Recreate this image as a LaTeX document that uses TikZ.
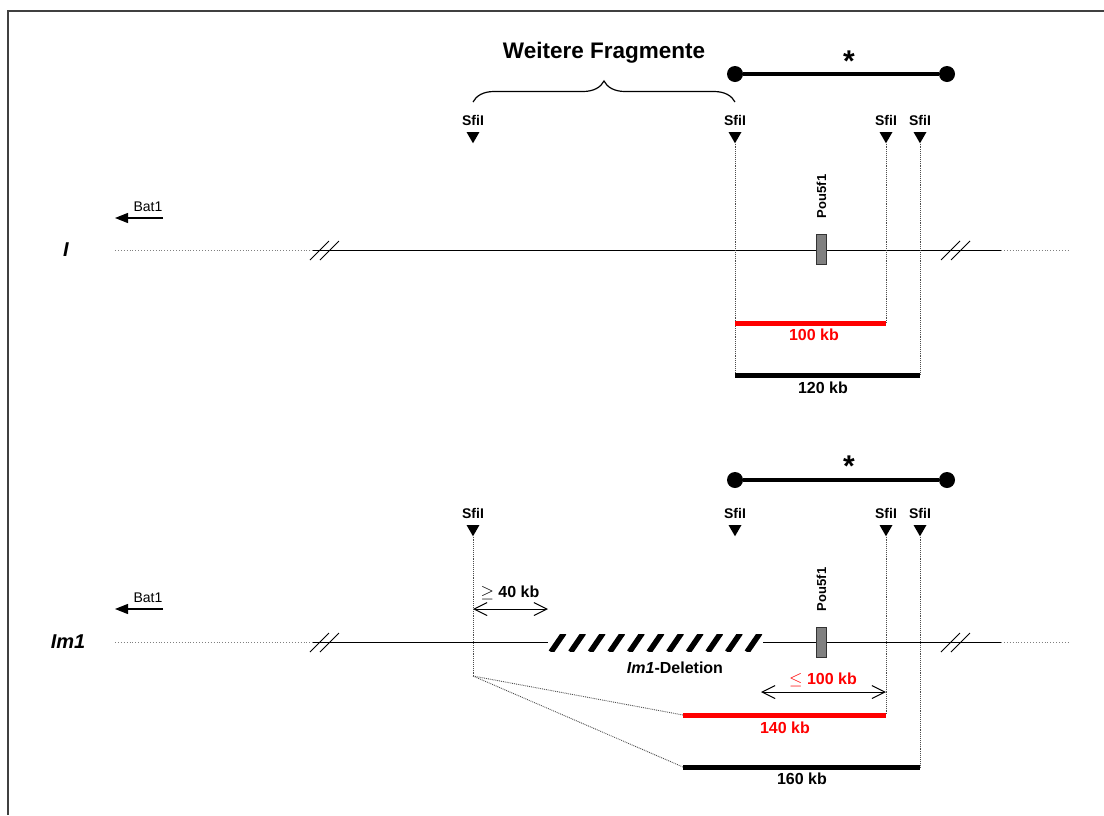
\documentclass[tikz,border=0pt]{standalone}
\usepackage{fontspec}
\setmainfont{Liberation Sans}
\usepackage{tikz}
\usetikzlibrary{arrows.meta,positioning,shapes.geometric,decorations.pathreplacing}

\begin{document}
\begin{tikzpicture}[
  x=1pt, y=-1pt,
  font=\fontsize{14}{16}\selectfont\bfseries,
  site/.style={regular polygon, regular polygon sides=3, shape border rotate=180,
               fill=black, inner sep=0pt, minimum size=15pt,
               label={[label distance=3pt]above:SfiI}},
  guide/.style={densely dotted, black!70, line width=0.9pt},
  chrom/.style={line width=0.9pt},
  far/.style={dotted, black!50, line width=0.9pt},
  cut/.style={line width=0.8pt},
  gene/.style={draw=black!80, fill=black!50, line width=0.8pt,
               minimum width=10pt, minimum height=30pt, inner sep=0pt},
  gname/.style={font=\fontsize{13}{15}\selectfont\bfseries, rotate=90, anchor=west},
  redbar/.style={red, line width=5pt},
  blackbar/.style={black, line width=5pt},
  kb/.style={font=\fontsize{16}{18}\selectfont\bfseries},
  pin/.style={circle, fill=black, inner sep=0pt, minimum size=16pt},
  link/.style={line width=3.5pt},
  star/.style={font=\fontsize{30}{32}\selectfont\bfseries},
  dir/.style={-{Triangle[length=13pt,width=10pt]}, line width=1.2pt},
  dirlbl/.style={font=\fontsize{14}{16}\selectfont\mdseries},
  allele/.style={font=\fontsize{20}{22}\selectfont\bfseries\itshape},
  span/.style={{Straight Barb[length=13pt,width=13pt]}-{Straight Barb[length=13pt,width=13pt]},
               line width=1pt}
]
\useasboundingbox (0,0) rectangle (1104,815);
\draw[black!75, line width=1.4pt] (1104,11) -- (8,11) -- (8,815);

%% wild type
\node[font=\fontsize{22.5}{25}\selectfont\bfseries] (wf) at (604,53) {Weitere Fragmente};
\node[pin] (p1) at (735,74) {};
\node[pin] (p2) at (947,74) {};
\draw[link] (p1) -- (p2);
\node[star] (st1) at (849,61) {*};

\foreach \n/\x in {1/473,2/735,3/886,4/920}
  \node[site] (a\n) at (\x,135.75) {};
\draw[decorate, decoration={brace, amplitude=21pt}, line width=1.2pt]
  (a1 |- 0,102) -- (a2 |- 0,102);

\coordinate (bt1) at (163,218);
\coordinate (bh1) at (115,218);
\draw[dir] (bt1) -- (bh1);
\node[dirlbl] (bat1) at (148,207) {Bat1};
\node[allele] (wt) at (66,250) {I};

\draw[far] (115,250) -- (313,250);
\draw[chrom] (313,250) -- (1001,250);
\draw[far] (1001,250) -- (1070,250);
\foreach \x in {310,320,941,951}
  \draw[cut] (\x,260) -- ++(19,-19);
\node[gene] (pou1) at (821.5,249) {};
\node[gname] (pl1) at ([yshift=12pt]pou1.north) {Pou5f1};

\coordinate (r1a) at (a2 |- 0,323);
\coordinate (r1b) at (a3 |- 0,323);
\coordinate (k1a) at (a2 |- 0,375);
\coordinate (k1b) at (a4 |- 0,375);
\draw[guide] (a2.south) -- (k1a);
\draw[guide] (a3.south) -- (r1b);
\draw[guide] (a4.south) -- (k1b);
\draw[redbar] (r1a) -- (r1b);
\draw[blackbar] (k1a) -- (k1b);
\node[kb, text=red] (l100) at (814,335) {100 kb};
\node[kb] (l120) at (823,388) {120 kb};

%% Im1
\node[pin] (q1) at (735,480) {};
\node[pin] (q2) at (947,480) {};
\draw[link] (q1) -- (q2);
\node[star] (st2) at (849,466) {*};

\foreach \n/\x in {1/473,2/735,3/886,4/920}
  \node[site] (b\n) at (\x,528.75) {};

\coordinate (bt2) at (163,609);
\coordinate (bh2) at (115,609);
\draw[dir] (bt2) -- (bh2);
\node[dirlbl] (bat2) at (148,598) {Bat1};
\node[allele] (mu) at (68,642) {Im1};

\draw[far] (115,642) -- (313,642);
\draw[chrom] (313,642) -- (1001,642);
\draw[far] (1001,642) -- (1070,642);
\foreach \x in {310,320,941,951}
  \draw[cut] (\x,652) -- ++(19,-19);
\node[gene] (pou2) at (821.5,642) {};
\node[gname] (pl2) at ([yshift=12pt]pou2.north) {Pou5f1};

% deletion
\fill[white] (548,634) rectangle (763,651);
\begin{scope}
  \clip (548,634) rectangle (763,651);
  \foreach \i in {0,...,11}
    \draw[line width=5.5pt] (551+\i*19.6,652) -- ++(13,-19);
\end{scope}
\node[kb] (del) at (675,668) {\textit{Im1}-Deletion};

\coordinate (d0) at (b1 |- 0,676);
\coordinate (s1a) at (b1 |- 0,609);
\coordinate (s1b) at (548,609);
\draw[span] (s1a) -- (s1b);
\node[kb] (l40) at (510,593) {{\mdseries$\geq$} 40 kb};

\coordinate (r2a) at (683,715);
\coordinate (r2b) at (b3 |- 0,715);
\coordinate (k2a) at (683,767);
\coordinate (k2b) at (b4 |- 0,767);
\draw[guide] (b1.south) -- (d0);
\draw[guide] (d0) -- (r2a);
\draw[guide] (d0) -- (k2a);
\draw[guide] (b3.south) -- (r2b);
\draw[guide] (b4.south) -- (k2b);
\draw[redbar] (r2a) -- (r2b);
\draw[blackbar] (k2a) -- (k2b);

\coordinate (s2a) at (761,692);
\coordinate (s2b) at (b3 |- 0,692);
\draw[span] (s2a) -- (s2b);
\node[kb, text=red] (l100b) at (823,680) {$\leq$ 100 kb};
\node[kb, text=red] (l140) at (785,728) {140 kb};
\node[kb] (l160) at (802,779) {160 kb};
\end{tikzpicture}
\end{document}
